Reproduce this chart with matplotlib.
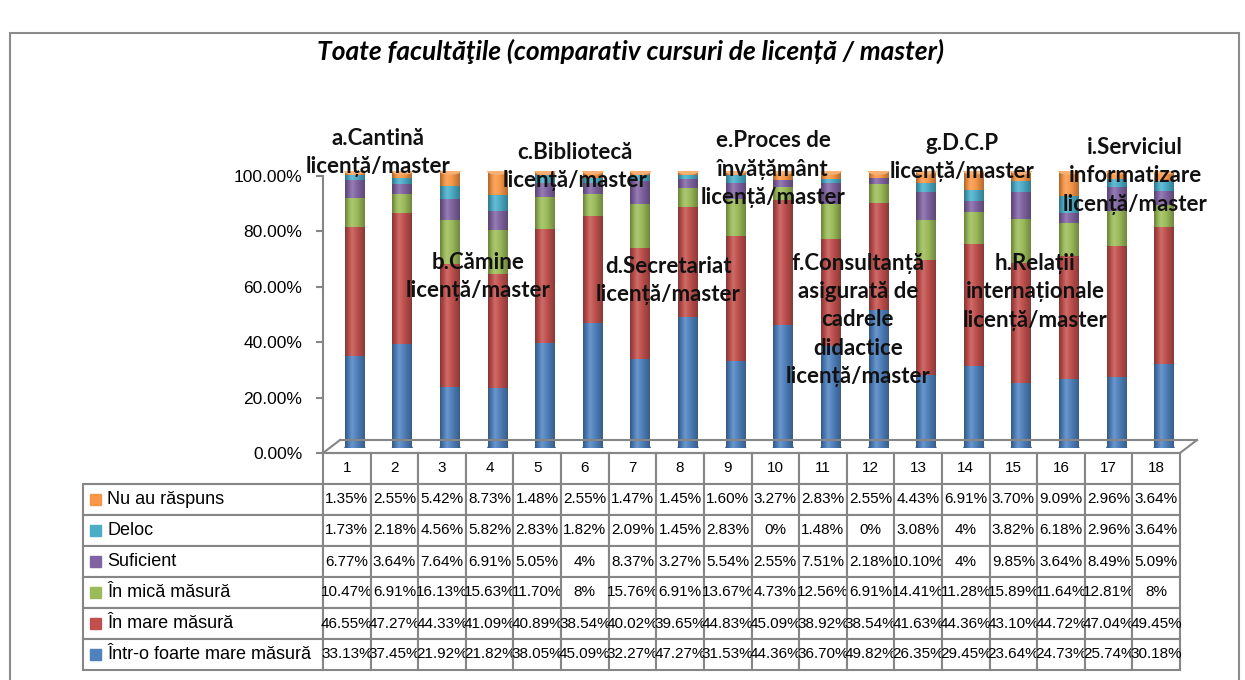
import numpy as np
import matplotlib
matplotlib.use("Agg")
import matplotlib.pyplot as plt
from matplotlib.patches import Rectangle, Ellipse
from matplotlib.lines import Line2D
import matplotlib.transforms as mtransforms
import matplotlib.colors as mcolors

# Date (procente) pentru cele 18 coloane
columns = [str(i) for i in range(1, 19)]
foarte_mare = [33.13, 37.45, 21.92, 21.82, 38.05, 45.09, 32.27, 47.27, 31.53,
               44.36, 36.70, 49.82, 26.35, 29.45, 23.64, 24.73, 25.74, 30.18]
mare = [46.55, 47.27, 44.33, 41.09, 40.89, 38.54, 40.02, 39.65, 44.83,
        45.09, 38.92, 38.54, 41.63, 44.36, 43.10, 44.72, 47.04, 49.45]
mica = [10.47, 6.91, 16.13, 15.63, 11.70, 8.00, 15.76, 6.91, 13.67,
        4.73, 12.56, 6.91, 14.41, 11.28, 15.89, 11.64, 12.81, 8.00]
suficient = [6.77, 3.64, 7.64, 6.91, 5.05, 4.00, 8.37, 3.27, 5.54,
             2.55, 7.51, 2.18, 10.10, 4.00, 9.85, 3.64, 8.49, 5.09]
deloc = [1.73, 2.18, 4.56, 5.82, 2.83, 1.82, 2.09, 1.45, 2.83,
         0.00, 1.48, 0.00, 3.08, 4.00, 3.82, 6.18, 2.96, 3.64]
nu_raspuns = [1.35, 2.55, 5.42, 8.73, 1.48, 2.55, 1.47, 1.45, 1.60,
              3.27, 2.83, 2.55, 4.43, 6.91, 3.70, 9.09, 2.96, 3.64]

# Serii de jos in sus
series_names = ["Într-o foarte mare măsură", "În mare măsură", "În mică măsură",
                "Suficient", "Deloc", "Nu au răspuns"]
series_values = [foarte_mare, mare, mica, suficient, deloc, nu_raspuns]
colors = ["#4F81BD", "#C0504D", "#9BBB59", "#8064A2", "#4BACC6", "#F79646"]

# Etichete categorii (text, centru x px, y px prima linie)
cat_labels = [
    ("a.Cantină\nlicență/master", 378, 138),
    ("b.Cămine\nlicență/master", 478, 262),
    ("c.Bibliotecă\nlicență/master", 575, 152),
    ("d.Secretariat\nlicență/master", 668, 266),
    ("e.Proces de\nînvățământ\nlicență/master", 773, 140),
    ("f.Consultanță\nasigurată de\ncadrele\ndidactice\nlicență/master", 858, 262),
    ("g.D.C.P\nlicență/master", 962, 143),
    ("h.Relații\ninternaționale\nlicență/master", 1035, 263),
    ("i.Serviciul\ninformatizare\nlicență/master", 1135, 147),
]

W, H = 1245, 680
fig = plt.figure(figsize=(W / 100, H / 100), dpi=100)

def fx(px):
    return px / W

def fy(py):
    return 1 - py / H

grey = "#868686"

# Axa principala (scala Y + tabel)
ax = fig.add_axes([fx(323), fy(453), 857 / W, 277 / H])
ax.set_xlim(-0.5, 17.5)
ax.set_ylim(0, 100)
ax.set_yticks(range(0, 101, 20))
ax.set_yticklabels([f"{v:.2f}%" for v in range(0, 101, 20)],
                   fontsize=12.5, family="Liberation Sans")
ax.set_xticks([])
for s in ["top", "right"]:
    ax.spines[s].set_visible(False)
for s in ["left", "bottom"]:
    ax.spines[s].set_color(grey)
    ax.spines[s].set_linewidth(1.5)
ax.tick_params(axis="y", length=5, width=1.5, color=grey, pad=10)
ax.patch.set_alpha(0)

# Podea 3D
off = mtransforms.offset_copy(ax.transAxes, fig=fig, x=17, y=13, units="dots")
for (xa, ya, ta), (xb, yb, tb) in [((0, 0, ax.transAxes), (0, 0, off)),
                                     ((0, 0, off), (1, 0, off)),
                                     ((1, 0, off), (1, 0, ax.transAxes))]:
    pa = ta.transform((xa, ya))
    pb = tb.transform((xb, yb))
    fig.add_artist(Line2D([pa[0] / W, pb[0] / W], [pa[1] / H, pb[1] / H],
                          transform=fig.transFigure, color=grey, lw=1.5))

# Axa pentru bare (deplasata pentru efect 3D)
axb = fig.add_axes([fx(331), fy(448), 857 / W, 277 / H])
axb.axis("off")

x = np.arange(len(columns))
bw = 0.42
bottom = np.zeros(len(columns))
# elipsa de jos
for i in range(len(columns)):
    axb.add_patch(Ellipse((x[i], 0), bw, 2.2, color=colors[0], zorder=1))
for vals, c in zip(series_values, colors):
    axb.bar(x, vals, bw, bottom=bottom, color=c, zorder=2, linewidth=0)
    bottom += np.array(vals)

# umbrire cilindru
n = 40
t = np.linspace(0, 1, n)
shade = np.where(t < 0.35, -0.9 * (0.35 - t) / 0.35 + 0.5 * t / 0.35,
                 0.5 - 1.3 * (t - 0.35) / 0.65)
rgba = np.zeros((1, n, 4))
rgba[0, :, :3] = np.where(shade[:, None] > 0, 1.0, 0.0)
rgba[0, :, 3] = np.abs(shade) * 0.35
top_c = np.array(mcolors.to_rgb(colors[-1])) * 0.75 + 0.25
for i in range(len(columns)):
    axb.imshow(rgba, extent=[x[i] - bw / 2, x[i] + bw / 2, 0, bottom[i]],
               aspect="auto", interpolation="bilinear", zorder=3)
    axb.add_patch(Ellipse((x[i], bottom[i]), bw, 2.2, color=top_c, zorder=4))
axb.set_xlim(-0.5, 17.5)
axb.set_ylim(0, 100)

# Tabel de date
def fmt(v):
    return f"{int(round(v))}%" if abs(v - round(v)) < 1e-9 else f"{v:.2f}%"

rows_top = list(range(len(series_names)))[::-1]
cell_text = [[""] + columns]
for r in rows_top:
    cell_text.append([series_names[r]] + [fmt(v) for v in series_values[r]])
x0 = (83 - 323) / 857
lab_w = 240 / 857
col_w = 1 / 18
tw = lab_w + 18 * col_w
th = (670 - 453) / 277
tbl = ax.table(cellText=cell_text, colWidths=[lab_w] + [col_w] * 18,
               cellLoc="center", bbox=[x0, -th, tw, th])
tbl.auto_set_font_size(False)
for (r, c), cell in tbl.get_celld().items():
    cell.set_edgecolor(grey)
    cell.set_linewidth(1.5)
    txt = cell.get_text()
    txt.set_family("Liberation Sans")
    if r == 0:
        txt.set_fontsize(11)
        if c == 0:
            cell.visible_edges = ""
    elif c == 0:
        txt.set_fontsize(13)
        txt.set_horizontalalignment("left")
        cell._loc = "left"
    else:
        txt.set_fontsize(11)

# patratele colorate din legenda
rh = th / 7
for k, r in enumerate(rows_top):
    yc = -rh * (k + 1) - rh / 2
    ax.add_patch(Rectangle(((90 - 323) / 857, yc - 5.5 / 277), 11 / 857, 11 / 277,
                           transform=ax.transAxes, color=colors[r], clip_on=False, zorder=5))

# Etichete categorii
line_px = 29
for txt, cx, cy in cat_labels:
    nl = txt.count("\n")
    fig.text(fx(cx), fy(cy + line_px * nl / 2), txt, ha="center", va="center",
             fontsize=16, fontweight="bold", family=["Lato", "DejaVu Sans"],
             linespacing=1.42, color="#111111", zorder=10)

# Titlu
fig.text(fx(631), fy(51), "Toate facultăţile (comparativ cursuri de licență / master)",
         ha="center", va="center", fontsize=19, fontweight="bold", style="italic",
         family=["Lato", "DejaVu Sans"])

# Chenar exterior
fig.add_artist(Rectangle((fx(10), -0.05), (1239 - 10) / W, fy(33) + 0.05,
                         transform=fig.transFigure, fill=False, ec="#8c8c8c", lw=1.5))

fig.savefig("out.png", dpi=100)
